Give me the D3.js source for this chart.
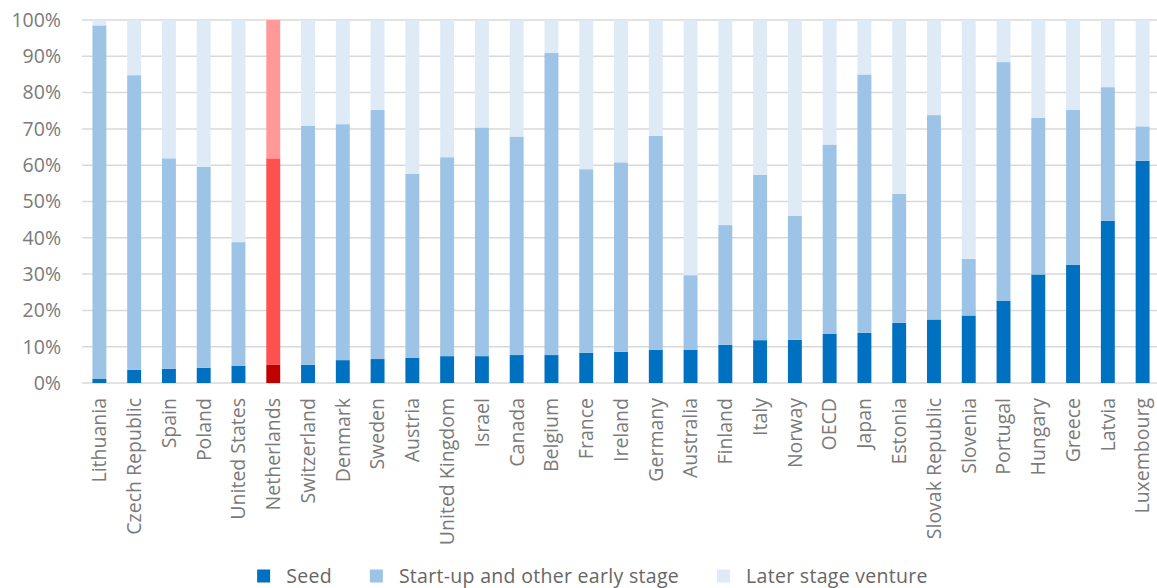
<!DOCTYPE html>
<html>
<head>
<meta charset="utf-8">
<script src="https://cdn.jsdelivr.net/npm/d3@7"></script>
<style>
  body { margin: 0; background: #fff; }
  svg { display: block; font-family: "Open Sans", sans-serif; }
</style>
</head>
<body>
<svg id="chart" width="1157" height="588"></svg>
<script>
// data (shares in %)
const countries = ["Lithuania", "Czech Republic", "Spain", "Poland", "United States", "Netherlands", "Switzerland", "Denmark", "Sweden", "Austria", "United Kingdom", "Israel", "Canada", "Belgium", "France", "Ireland", "Germany", "Australia", "Finland", "Italy", "Norway", "OECD", "Japan", "Estonia", "Slovak Republic", "Slovenia", "Portugal", "Hungary", "Greece", "Latvia", "Luxembourg"];
const seed = [1.1, 3.6, 3.9, 4.2, 4.7, 5.0, 5.0, 6.3, 6.6, 6.9, 7.4, 7.4, 7.7, 7.7, 8.3, 8.6, 9.1, 9.1, 10.5, 11.8, 11.9, 13.6, 13.8, 16.6, 17.5, 18.6, 22.7, 29.9, 32.6, 44.7, 61.2];
const startUp = [97.4, 81.2, 58.0, 55.3, 34.1, 56.9, 65.9, 65.0, 68.6, 50.7, 54.8, 63.0, 60.2, 83.2, 50.6, 52.2, 59.0, 20.6, 33.0, 45.6, 34.1, 52.1, 71.2, 35.5, 56.3, 15.6, 65.7, 43.1, 42.6, 36.8, 9.5];
const later = [1.5, 15.2, 38.1, 40.5, 61.2, 38.1, 29.1, 28.7, 24.8, 42.4, 37.8, 29.6, 32.1, 9.1, 41.1, 39.2, 31.9, 70.3, 56.5, 42.6, 54.0, 34.3, 15.0, 47.9, 26.2, 65.8, 11.6, 27.0, 24.8, 18.5, 29.3];
const seriesNames = ["Seed", "Start-up and other early stage", "Later stage venture"];
const yTicks = [0, 10, 20, 30, 40, 50, 60, 70, 80, 90, 100];
const highlight = "Netherlands";

const colors = ["#0070C0", "#9DC3E6", "#DEEBF7"];
const highlightColors = ["#C00000", "#FF5050", "#FF9999"];

const svg = d3.select("#chart");
const plotLeft = 82, plotRight = 1160, plotTop = 20, plotBottom = 383;
const fontSize = 19.5;

const rows = countries.map((c, i) => ({ country: c, s0: seed[i], s1: startUp[i], s2: later[i] }));

const x = d3.scaleBand().domain(countries).range([plotLeft, plotRight]).paddingInner(0.6).paddingOuter(0.3);
const y = d3.scaleLinear().domain([0, 100]).range([plotBottom, plotTop]);

// grid
svg.append("g")
    .selectAll("line")
    .data(yTicks)
    .enter()
    .append("line")
    .attr("x1", plotLeft).attr("x2", plotRight)
    .attr("y1", d => y(d)).attr("y2", d => y(d))
    .attr("stroke", "#D9D9D9")
    .attr("stroke-width", 1.5);

// y labels
svg.append("g")
    .selectAll("text")
    .data(yTicks)
    .enter()
    .append("text")
    .attr("x", 61)
    .attr("y", d => y(d))
    .attr("dy", "0.35em")
    .attr("text-anchor", "end")
    .attr("font-size", fontSize)
    .attr("fill", "#7a7a7a")
    .text(d => d + "%");

// stacked bars
const stack = d3.stack().keys(["s0", "s1", "s2"]);
const layers = stack(rows);

svg.append("g")
    .selectAll("g")
    .data(layers)
    .enter()
    .append("g")
    .each(function(layer, li) {
        d3.select(this).selectAll("rect")
            .data(layer)
            .enter()
            .append("rect")
            .attr("x", d => x(d.data.country))
            .attr("width", x.bandwidth())
            .attr("y", d => y(d[1]))
            .attr("height", d => y(d[0]) - y(d[1]))
            .attr("fill", d => d.data.country === highlight ? highlightColors[li] : colors[li]);
    });

// x labels
svg.append("g")
    .selectAll("text")
    .data(countries)
    .enter()
    .append("text")
    .attr("transform", d => `translate(${x(d) + x.bandwidth() / 2},398) rotate(-90)`)
    .attr("dy", "0.35em")
    .attr("text-anchor", "end")
    .attr("font-size", fontSize)
    .attr("fill", "#7a7a7a")
    .text(d => d);

// legend
const legend = svg.append("g");
const items = legend.selectAll("g")
    .data(seriesNames)
    .enter()
    .append("g");

items.append("rect")
    .attr("width", 13).attr("height", 13)
    .attr("y", -6.5)
    .attr("fill", (d, i) => colors[i]);

items.append("text")
    .attr("x", 29)
    .attr("dy", "0.35em")
    .attr("font-size", fontSize)
    .attr("letter-spacing", 0.3)
    .attr("fill", "#666666")
    .text(d => d);

const widths = [];
items.each(function() {
    widths.push(29 + d3.select(this).select("text").node().getComputedTextLength());
});
const gap = 38;
const total = d3.sum(widths) + gap * (widths.length - 1);
let offset = 592.5 - total / 2;
items.attr("transform", (d, i) => {
    const t = `translate(${offset},576)`;
    offset += widths[i] + gap;
    return t;
});
</script>
</body>
</html>
